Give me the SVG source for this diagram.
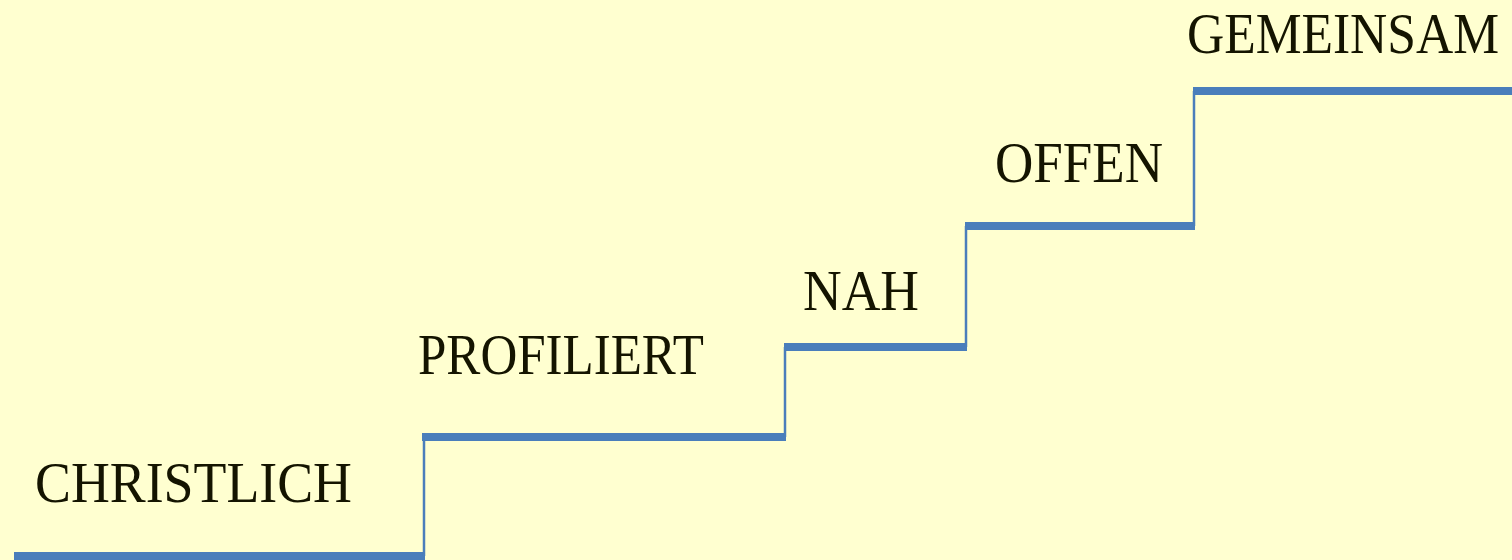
<svg xmlns="http://www.w3.org/2000/svg" width="1512" height="560" viewBox="0 0 1512 560">
<style>
.bg{fill:#ffffd0}
.tread{stroke:#4a7ebb;stroke-width:8;fill:none}
.riser{stroke:#4a7ebb;stroke-width:2.5;fill:none}
.lbl{font-family:"Liberation Serif","Times New Roman",serif;font-size:57px;fill:#141400}
</style>
<rect class="bg" x="0" y="0" width="1512" height="560"/>
<g id="connectors">
<line class="tread" x1="14" y1="556" x2="425" y2="556"/>
<line class="riser" x1="424" y1="437" x2="424" y2="556"/>
<line class="tread" x1="422" y1="437" x2="786" y2="437"/>
<line class="riser" x1="785" y1="347" x2="785" y2="437"/>
<line class="tread" x1="784" y1="347" x2="967" y2="347"/>
<line class="riser" x1="966" y1="226" x2="966" y2="347"/>
<line class="tread" x1="965" y1="226" x2="1195" y2="226"/>
<line class="riser" x1="1194" y1="91" x2="1194" y2="226"/>
<line class="tread" x1="1193" y1="91" x2="1512" y2="91"/>
</g>
<g id="christlich"><text class="lbl" x="35" y="502" textLength="317" lengthAdjust="spacingAndGlyphs">CHRISTLICH</text></g>
<g id="profiliert"><text class="lbl" x="418" y="374" textLength="286" lengthAdjust="spacingAndGlyphs">PROFILIERT</text></g>
<g id="nah"><text class="lbl" x="803" y="310" textLength="116" lengthAdjust="spacingAndGlyphs">NAH</text></g>
<g id="offen"><text class="lbl" x="995" y="182" textLength="168" lengthAdjust="spacingAndGlyphs">OFFEN</text></g>
<g id="gemeinsam"><text class="lbl" x="1187" y="53" textLength="312" lengthAdjust="spacingAndGlyphs">GEMEINSAM</text></g>
</svg>
